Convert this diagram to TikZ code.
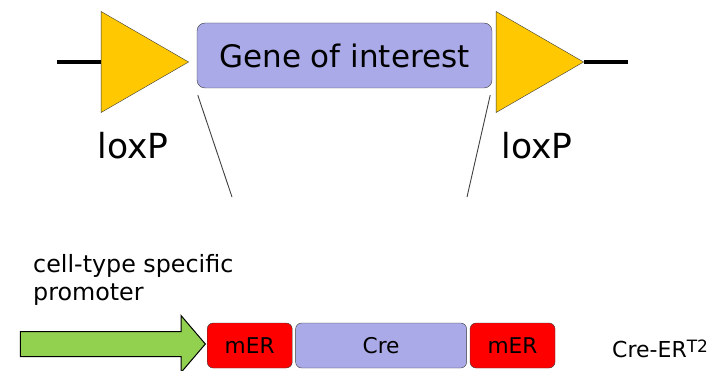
\documentclass[tikz,border=0pt]{standalone}
\usepackage{fontspec}
\setmainfont{DejaVu Sans}
\usetikzlibrary{positioning,shapes.geometric,shapes.arrows}
\definecolor{loxyellow}{HTML}{FFC800}
\definecolor{genelilac}{HTML}{AAAAE8}
\definecolor{merred}{HTML}{FF0000}
\definecolor{promgreen}{HTML}{92D050}
\definecolor{edgegray}{HTML}{3A3A3A}

\begin{document}
\begin{tikzpicture}[x=1pt,y=-1pt,
  node distance=3pt,
  box/.style={draw=edgegray,rounded corners=6pt,inner sep=0pt,
              minimum height=45pt,font=\fontsize{21.7}{26}\selectfont},
  genebox/.style={box,fill=genelilac},
  merbox/.style={box,fill=merred,minimum width=85pt},
  loxp/.style={isosceles triangle,isosceles triangle apex angle=60,
               minimum height=87.5pt,inner sep=0pt,fill=loxyellow,draw=edgegray},
  lbl/.style={inner sep=0pt,anchor=base},
  wire/.style={line width=4pt,black},
  zoomline/.style={draw=black!75,line width=0.9pt}
]
  \useasboundingbox (0,0) rectangle (719,371);

  % floxed allele
  \node[loxp,anchor=apex] (loxL) at (189,62) {};
  \node[genebox,minimum width=295pt,minimum height=65pt,rounded corners=8pt,
        font=\fontsize{31}{36}\selectfont] (gene) at (344.5,55.5) {Gene of interest};
  \node[loxp,anchor=apex] (loxR) at (584,62) {};
  \coordinate (wireL) at (57,62);
  \coordinate (wireR) at (628,62);
  \draw[wire] (wireL) -- (loxL.west);
  \draw[wire] (loxR.apex) -- (wireR);

  \node[lbl,font=\fontsize{34.5}{40}\selectfont] (loxLlbl) at (133,159) {loxP};
  \node[lbl,font=\fontsize{34.5}{40}\selectfont] (loxRlbl) at (537,159) {loxP};

  \coordinate (zoomL) at (232,197);
  \coordinate (zoomR) at (467,197);
  \draw[zoomline] ([xshift=1pt,yshift=-7pt]gene.south west) -- (zoomL);
  \draw[zoomline] ([xshift=-2pt,yshift=-7pt]gene.south east) -- (zoomR);

  % Cre-ERT2 driver
  \node[lbl,anchor=base west,align=left,font=\fontsize{23.8}{28}\selectfont]
    (prom) at (33,300) {cell-type specific\\promoter};
  \node[single arrow,single arrow head extend=16pt,single arrow tip angle=99,
        minimum width=56pt,minimum height=185pt,inner xsep=0pt,inner ysep=12pt,
        fill=promgreen,draw=black,line width=1pt,anchor=tip] (promarrow) at (206,344) {};
  \node[merbox,anchor=west] (merL) at (207,345.5) {mER};
  \node[box,fill=genelilac,minimum width=171pt,right=of merL] (cre) {Cre};
  \node[merbox,right=of cre] (merR) {mER};
  \node[lbl,anchor=base west,font=\fontsize{22}{26}\selectfont]
    (creert) at (612,357) {Cre-ER\raisebox{5pt}{\fontsize{17}{20}\selectfont T2}};
\end{tikzpicture}
\end{document}
